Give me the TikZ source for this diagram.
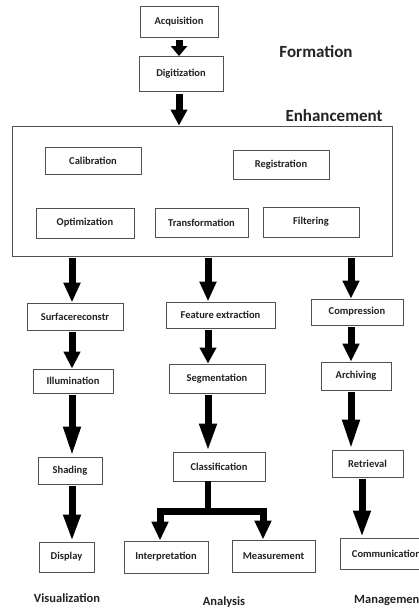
\documentclass[tikz,border=0pt]{standalone}
\usepackage{fontspec}
\setmainfont{Carlito}
\usetikzlibrary{arrows.meta,calc}
\definecolor{boxline}{HTML}{505050}
\definecolor{txt}{HTML}{222222}
\tikzset{
  box/.style={draw=boxline, line width=0.9pt, fill=white, inner sep=0pt,
    font=\bfseries\fontsize{10.5}{12}\selectfont, text=txt},
  head/.style={font=\bfseries\fontsize{17}{20}\selectfont, text=txt, inner sep=0pt},
  foot/.style={font=\bfseries\fontsize{12.5}{15}\selectfont, text=txt, inner sep=0pt},
  arr/.style={draw=black, line width=7pt, shorten <=2pt, line join=miter,
    -{Triangle[width=16pt,length=#1]}},
  arr/.default=18pt,
  bar/.style={draw=black, line width=6pt},
}
\begin{document}
\begin{tikzpicture}[x=1pt,y=-1pt]
\useasboundingbox (0,0) rectangle (419,608);
\clip (0,0) rectangle (419,608);
% top
\node[box, minimum width=78pt, minimum height=31pt] (acq) at (179,22) {Acquisition};
\node[box, minimum width=84pt, minimum height=35pt] (dig) at (181,74) {Digitization};
\node[head] (form) at (316,52) {Formation};
\node[head] (enh) at (334,116) {Enhancement};
% enhancement block
\node[draw=boxline, line width=0.9pt, minimum width=380pt, minimum height=130pt, inner sep=0pt] (big) at (202,191) {};
\node[box, minimum width=96pt, minimum height=27pt] (cal) at (93,160.5) {Calibration};
\node[box, minimum width=96pt, minimum height=29pt] (reg) at (281,164.5) {Registration};
\node[box, minimum width=98pt, minimum height=30pt] (opt) at (85,223) {Optimization};
\node[box, minimum width=93pt, minimum height=29pt] (tra) at (201.5,222.5) {Transformation};
\node[box, minimum width=96pt, minimum height=30pt] (fil) at (311,222) {Filtering};
% visualization column
\node[box, minimum width=96pt, minimum height=27pt] (sur) at (75,316.5) {Surfacereconstr};
\node[box, minimum width=80pt, minimum height=24pt] (ill) at (73,381) {Illumination};
\node[box, minimum width=64pt, minimum height=27pt] (sha) at (70,470.5) {Shading};
\node[box, minimum width=55pt, minimum height=30pt] (dis) at (66.5,557) {Display};
% analysis column
\node[box, minimum width=109pt, minimum height=26pt] (fea) at (220.5,315) {Feature extraction};
\node[box, minimum width=96pt, minimum height=29pt] (seg) at (217,378.5) {Segmentation};
\node[box, minimum width=92pt, minimum height=29pt] (cla) at (219,466.5) {Classification};
\node[box, minimum width=84pt, minimum height=32pt] (int) at (166,557) {Interpretation};
\node[box, minimum width=83pt, minimum height=32pt] (mea) at (273.5,556) {Measurement};
% management column
\node[box, minimum width=92pt, minimum height=26pt] (com) at (357,312) {Compression};
\node[box, minimum width=70pt, minimum height=28pt] (arc) at (356,376) {Archiving};
\node[box, minimum width=71pt, minimum height=27pt] (ret) at (367.5,463.5) {Retrieval};
\node[box, minimum width=92pt, minimum height=31pt, anchor=west] (comm) at (340,553.5) {Communication};
% footers
\node[foot] (vis) at (67,598) {Visualization};
\node[foot] (ana) at (224,602) {Analysis};
\node[foot, anchor=west] (man) at (354,600) {Management};
% x positions of arrows
\coordinate (xa) at (179,0);
\coordinate (xv) at (72,0);
\coordinate (xn) at (208,0);
\coordinate (xm) at (351,0);
\coordinate (xv2) at (72,0);
\coordinate (xr) at (362,0);
\coordinate (bj) at (208,511);
\coordinate (bl) at (160,511);
\coordinate (br) at (263,511);
% arrows
\draw[arr=10pt] (acq.south -| xa) -- (dig.north -| xa);
\draw[arr=16pt] (dig.south -| xa) -- (big.north -| xa);
\draw[arr=20pt] (big.south -| xv) -- (sur.north -| xv);
\draw[arr=20pt] (big.south -| xn) -- (fea.north -| xn);
\draw[arr=18pt] (big.south -| xm) -- (com.north -| xm);
\draw[arr=17pt] (sur.south -| xv) -- (ill.north -| xv);
\draw[arr=30pt] (ill.south -| xv) -- (sha.north -| xv);
\draw[arr=27pt] (sha.south -| xv) -- (dis.north -| xv);
\draw[arr=16pt] (fea.south -| xn) -- (seg.north -| xn);
\draw[arr=28pt] (seg.south -| xn) -- (cla.north -| xn);
\draw[arr=18pt] (com.south -| xm) -- (arc.north -| xm);
\draw[arr=30pt] (arc.south -| xm) -- (ret.north -| xm);
\draw[arr=27pt] (ret.south -| xr) -- (comm.north -| xr);
% branch
\draw[bar] (cla.south -| bj) -- (bj);
\draw[arr=19pt, shorten <=0pt] (bj) -| (int.north -| bl);
\draw[arr=19pt, shorten <=0pt] (bj) -| (mea.north -| br);
\end{tikzpicture}
\end{document}
